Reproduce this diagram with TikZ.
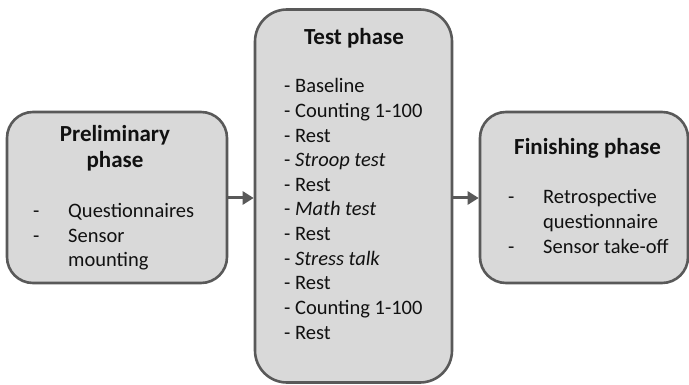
\documentclass[tikz,border=0pt]{standalone}
\usepackage{fontspec}
\setmainfont{Carlito}
\usetikzlibrary{arrows.meta}
\definecolor{boxfill}{HTML}{D9D9D9}
\definecolor{boxline}{HTML}{595959}
\definecolor{txt}{HTML}{111111}
\begin{document}
\begin{tikzpicture}[x=1pt,y=-1pt,
  phasebox/.style={draw=boxline,fill=boxfill,line width=2.6pt,rounded corners=26pt,inner sep=0pt},
  ttl/.style={font=\fontsize{23}{27}\selectfont\bfseries,text=txt,inner sep=0pt,anchor=base},
  itm/.style={font=\fontsize{20.5}{24}\selectfont,text=txt,inner sep=0pt,anchor=base west},
  conn/.style={draw=boxline,line width=3pt,-{Triangle[length=11pt,width=13pt]}}]
\useasboundingbox (0,0) rectangle (689,385);
% boxes
\node[phasebox,minimum width=220pt,minimum height=171pt] (pre) at (117,197.5) {};
\node[phasebox,minimum width=197pt,minimum height=373pt,rounded corners=32pt] (test) at (353.5,196) {};
\node[phasebox,minimum width=208pt,minimum height=171pt] (fin) at (584,197.5) {};
% connectors
\coordinate (a1) at (pre.east |- 0,198);
\coordinate (a2) at (test.west |- 0,198);
\coordinate (b1) at (test.east |- 0,198);
\coordinate (b2) at (fin.west |- 0,198);
\draw[conn] (a1) -- (a2);
\draw[conn] (b1) -- (b2);
% preliminary
\node[ttl] (pt1) at (115,141.5) {Preliminary};
\node[ttl] (pt2) at (115,168) {phase};
\node[itm] (pd1) at (33,218) {-};
\node[itm] (pd2) at (33,243) {-};
\node[itm] (pl1) at (68,218) {Questionnaires};
\node[itm] (pl2) at (68,243) {Sensor};
\node[itm] (pl3) at (68,267) {mounting};
% test
\node[ttl] (tt) at (354,44.5) {Test phase};
\node[itm] (t1) at (284,93) {- Baseline};
\node[itm] (t2) at (284,117.6) {- Counting 1-100};
\node[itm] (t3) at (284,142.2) {- Rest};
\node[itm] (t4) at (284,166.8) {- \textit{Stroop test}};
\node[itm] (t5) at (284,191.4) {- Rest};
\node[itm] (t6) at (284,216) {- \textit{Math test}};
\node[itm] (t7) at (284,240.6) {- Rest};
\node[itm] (t8) at (284,265.2) {- \textit{Stress talk}};
\node[itm] (t9) at (284,289.8) {- Rest};
\node[itm] (t10) at (284,314.4) {- Counting 1-100};
\node[itm] (t11) at (284,339) {- Rest};
% finishing
\node[ttl] (ft) at (587.5,155) {Finishing phase};
\node[itm] (fd1) at (508,203.3) {-};
\node[itm] (fd2) at (508,253.3) {-};
\node[itm] (fl1) at (543,203.3) {Retrospective};
\node[itm] (fl2) at (543,228.3) {questionnaire};
\node[itm] (fl3) at (543,253.3) {Sensor take-off};
\end{tikzpicture}
\end{document}
